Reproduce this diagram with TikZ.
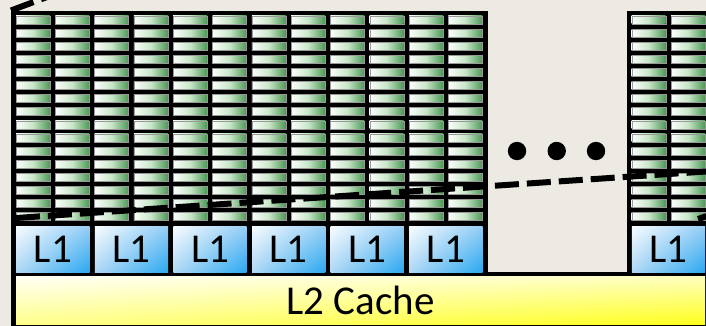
\documentclass[tikz,border=0pt]{standalone}
\usepackage{fontspec}
\setmainfont{Carlito}
\usetikzlibrary{shadings}
\begin{document}
\begin{tikzpicture}[x=1pt,y=-1pt]
  \definecolor{bg}{RGB}{236,234,226}
  \definecolor{barL}{RGB}{252,254,252}
  \definecolor{barM}{RGB}{200,230,200}
  \definecolor{barR}{RGB}{75,152,85}
  \definecolor{l1UL}{RGB}{248,252,255}
  \definecolor{l1UR}{RGB}{150,205,245}
  \definecolor{l1LL}{RGB}{175,215,245}
  \definecolor{l1LR}{RGB}{40,168,240}
  \definecolor{l2UL}{RGB}{255,255,245}
  \definecolor{l2UR}{RGB}{255,255,190}
  \definecolor{l2LL}{RGB}{255,255,140}
  \definecolor{l2LR}{RGB}{255,255,30}
  \tikzset{
    regbar/.style={draw=black!40, line width=0.4pt,
      left color=barL, right color=barR, middle color=barM},
    l1box/.style={shade, upper left=l1UL, upper right=l1UR, lower left=l1LL, lower right=l1LR,
      minimum width=73.3pt, minimum height=46.5pt, inner sep=0pt, anchor=north west,
      font=\fontsize{41}{41}\selectfont},
    l2box/.style={shade, upper left=l2UL, upper right=l2UR, lower left=l2LL, lower right=l2LR,
      minimum width=689pt, minimum height=48.5pt, inner sep=0pt, anchor=north west},
    cutline/.style={line width=6pt, dash pattern=on 24pt off 8pt, black},
    dot/.style={black}
  }
  \useasboundingbox (0,0) rectangle (706,326);
  \clip (0,0) rectangle (706,326);
  \fill[bg] (0,0) rectangle (706,326);

  % black frames of the two core groups and the shared L2
  \fill[black] (10.5,11) rectangle (487.5,276);
  \fill[black] (626.5,11) rectangle (740,276);
  \fill[black] (10.5,272) rectangle (740,340);

  % register bars, left group: 6 cores x 2 columns
  \foreach \c in {0,...,11}
    \foreach \r in {0,...,15}
      \shadedraw[regbar] ({16+39.3*\c},{16+13.1*\r}) rectangle +(34,8);
  % register bars, right group
  \foreach \xx in {631.7,671}
    \foreach \r in {0,...,15}
      \shadedraw[regbar] (\xx,{16+13.1*\r}) rectangle +(34,8);

  % L1 caches
  \foreach \c in {0,...,5}
    \node[l1box] (l1-\c) at ({16+78.6*\c},226) {L1};
  \node[l1box] (l1-r) at (631.7,226) {L1};

  % L2 cache
  \node[l2box] (l2) at (16,276) {};
  \node[anchor=base, font=\fontsize{41}{41}\selectfont, inner sep=0pt] (l2text) at (360.5,314.3) {L2 Cache};

  % ellipsis between the groups
  \fill[dot] (517,151) circle[radius=9.2pt];
  \fill[dot] (556.7,151) circle[radius=9.2pt];
  \fill[dot] (596,151) circle[radius=9.2pt];

  % dashed cut lines
  \coordinate (cutA) at (16,218);
  \coordinate (cutB) at (706,171.5);
  \draw[cutline] (cutA) -- (cutB);
  \coordinate (topA) at (11,10.5);
  \coordinate (topB) at (62,-8.6);
  \draw[cutline] (topA) -- (topB);
  \coordinate (edgeA) at (698,219);
  \coordinate (edgeB) at (712,214.5);
  \draw[line width=6pt] (edgeA) -- (edgeB);
\end{tikzpicture}
\end{document}
